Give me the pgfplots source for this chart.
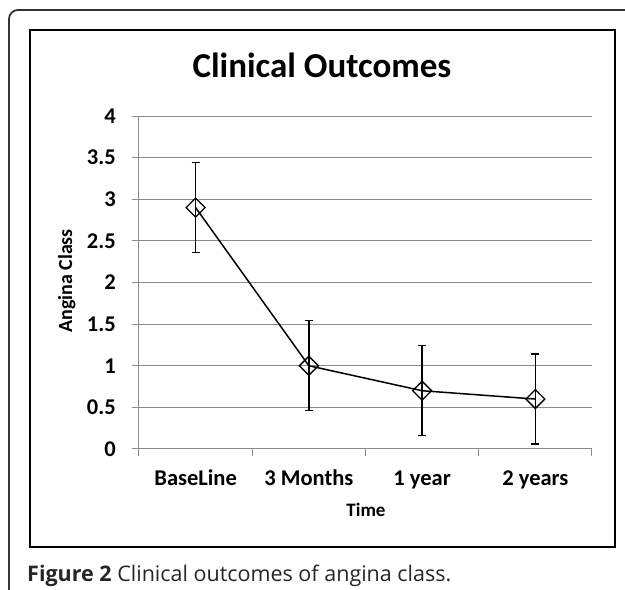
\documentclass[border=0pt]{standalone}
\usepackage{fontspec}
\setmainfont{Carlito}
\newfontfamily\capfont{Open Sans}
\usepackage{pgfplots}
\pgfplotsset{compat=1.18}
\pgfplotstableread{
x y e
0 2.9 0.54
1 1.0 0.54
2 0.7 0.54
3 0.6 0.54
}\outcomes
\begin{document}
\begin{tikzpicture}[x=1pt,y=1pt]
\useasboundingbox (0,0) rectangle (625,590);
\fill[white] (0,0) rectangle (625,590);
\draw[line width=1.8pt, color=black!80, rounded corners=9pt] (9,-10) -- (9,580) -- (650,580);
\draw[line width=1.3pt] (30,43) rectangle (615,560);
\node[anchor=base, inner sep=0pt, font=\bfseries\fontsize{35}{40}\selectfont] at (322,512) {Clinical Outcomes};
\node[anchor=base, inner sep=0pt, font=\bfseries\fontsize{19}{23}\selectfont] at (366,73) {Time};
\node[anchor=base, inner sep=0pt, rotate=90, font=\bfseries\fontsize{20}{24}\selectfont] at (72,309) {Angina Class};
\node[anchor=base west, inner sep=0pt, text=black!85, font=\capfont\fontsize{21.5}{25}\selectfont] at (27,8) {\textbf{Figure 2} Clinical outcomes of angina class.};
\begin{axis}[at={(139pt,141pt)}, anchor=south west, scale only axis,
  width=453pt, height=333pt,
  xmin=-0.5, xmax=3.5, ymin=0, ymax=4,
  axis x line=bottom, axis y line=left,
  axis line style={-, draw=black!45, line width=1pt},
  tick align=outside, major tick length=7pt,
  tick style={draw=black!45, line width=1pt},
  xtick={-0.5,0.5,1.5,2.5,3.5}, xticklabels={},
  extra x ticks={0,1,2,3},
  extra x tick labels={BaseLine, 3 Months, 1 year, 2 years},
  extra x tick style={major tick length=0pt, grid=none,
    xticklabel style={anchor=base, inner sep=0pt, yshift=-37pt}},
  ytick={0,0.5,1,1.5,2,2.5,3,3.5,4},
  yticklabel style={anchor=east, inner sep=0pt, xshift=-16pt},
  ymajorgrids, grid style={draw=black!45, line width=1pt},
  /pgf/number format/assume math mode=true,
  ticklabel style={font=\bfseries\fontsize{22.5}{26}\selectfont},
  clip=false,
]
\addplot[black, line width=1.5pt, mark=square, mark size=6.7pt,
  mark options={rotate=45, solid, fill=none, line width=1.3pt},
  error bars/.cd, y dir=both, y explicit,
  error bar style={line width=1.3pt, black},
  error mark options={rotate=90, mark size=4pt, line width=1.3pt, black}]
  table[x=x, y=y, y error=e] {\outcomes};
\end{axis}
\end{tikzpicture}
\end{document}
